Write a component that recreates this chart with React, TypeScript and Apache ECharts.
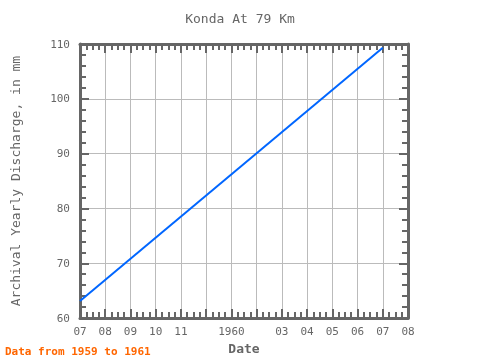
import React, { useEffect, useRef } from "react";
import * as echarts from "echarts";

const monthLabels = ["07", "08", "09", "10", "11", "", "1960", "", "03", "04", "05", "06", "07", "08"];
const pointMonths = [0, 12];
const dischargeValues = [63.1, 109.3];

export default function App() {
  const ref = useRef<HTMLDivElement>(null);
  useEffect(() => {
    const chart = echarts.init(ref.current!, null, { renderer: "svg" });
    const font = "DejaVu Sans Mono";
    const axisColor = "#666666";
    const data = pointMonths.map((m, i) => [m, dischargeValues[i]]);
    const line = { show: true, onZero: false, lineStyle: { color: axisColor, width: 3 } };
    const tick = { show: true, inside: true, length: 9, lineStyle: { color: axisColor, width: 2 } };
    const minor = (n: number) => ({ show: true, splitNumber: n, length: 6, lineStyle: { color: axisColor, width: 2 } });
    chart.setOption({
      animation: false,
      textStyle: { fontFamily: font },
      title: {
        text: "Konda At 79 Km",
        left: "center",
        top: 7,
        textStyle: { fontFamily: font, fontSize: 13, fontWeight: "normal", color: "#666666" },
      },
      grid: { left: 80, right: 72, top: 44, bottom: 40, containLabel: false },
      xAxis: [
        {
          type: "value",
          position: "bottom",
          min: 0,
          max: 13,
          interval: 1,
          name: "Date",
          nameLocation: "middle",
          nameGap: 22,
          nameTextStyle: { fontFamily: font, fontSize: 13, fontWeight: "bold", color: "#666666" },
          axisLine: line,
          axisTick: tick,
          minorTick: minor(4),
          axisLabel: {
            formatter: (v: number) => monthLabels[Math.round(v)] ?? "",
            color: "#666666",
            fontFamily: font,
            fontSize: 11,
            margin: 8,
          },
          splitLine: { show: true, lineStyle: { color: "#bbbbbb", width: 1 } },
        },
        {
          type: "value",
          position: "top",
          min: 0,
          max: 13,
          interval: 1,
          axisLine: line,
          axisTick: tick,
          minorTick: minor(4),
          axisLabel: { show: false },
          splitLine: { show: false },
        },
      ],
      yAxis: [
        {
          type: "value",
          position: "left",
          min: 60,
          max: 110,
          interval: 10,
          name: "Archival Yearly Discharge, in mm",
          nameLocation: "middle",
          nameGap: 58,
          nameTextStyle: { fontFamily: font, fontSize: 13, color: "#666666" },
          axisLine: line,
          axisTick: tick,
          minorTick: minor(5),
          axisLabel: { color: "#666666", fontFamily: font, fontSize: 11, margin: 10 },
          splitLine: { show: true, lineStyle: { color: "#bbbbbb", width: 1 } },
        },
        {
          type: "value",
          position: "right",
          min: 60,
          max: 110,
          interval: 10,
          axisLine: line,
          axisTick: tick,
          minorTick: minor(5),
          axisLabel: { show: false },
          splitLine: { show: false },
        },
      ],
      graphic: [
        {
          type: "text",
          left: 5,
          top: 346,
          style: {
            text: "Data from 1959 to 1961",
            fill: "#ff6600",
            font: `bold 11px "${font}"`,
          },
        },
      ],
      series: [
        {
          type: "line",
          data,
          showSymbol: false,
          symbol: "none",
          lineStyle: { color: "#0066ff", width: 2 },
          z: 5,
        },
      ],
    });
    return () => chart.dispose();
  }, []);
  return <div ref={ref} style={{ width: 480, height: 360, position: "fixed", left: 0, top: 0 }} />;
}
